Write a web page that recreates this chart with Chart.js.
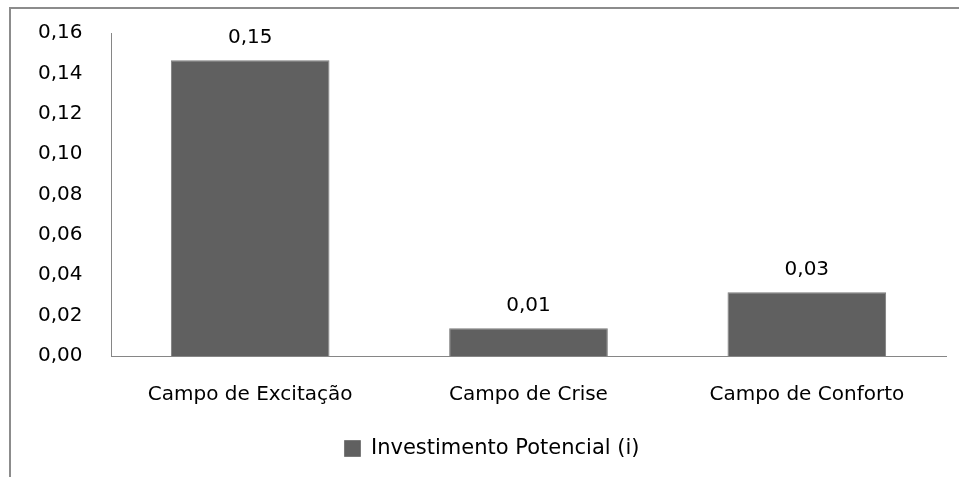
<!DOCTYPE html>
<html>
<head>
    <meta charset="utf-8">
    <title>Investimento Potencial</title>
    <style>
        body { margin: 0; background: #fff; }
        #frame {
            position: absolute; left: 9px; top: 7px; width: 960px; height: 480px;
            border-top: 2px solid #8c8c8c; border-left: 2px solid #8c8c8c;
        }
        #chart { position: absolute; left: 0; top: 0; }
    </style>
</head>
<body>
    <div id="frame"></div>
    <canvas id="chart" width="959" height="477"></canvas>
</body>
<script src="https://cdn.jsdelivr.net/npm/chart.js@4"></script>
<script>
    const categories = ["Campo de Excitação", "Campo de Crise", "Campo de Conforto"];
    const values = [0.1465, 0.0138, 0.0316];
    const seriesName = "Investimento Potencial (i)";
    const yTicks = [0, 0.02, 0.04, 0.06, 0.08, 0.10, 0.12, 0.14, 0.16];

    const barColor = "#606060";
    const axisColor = "#868686";
    const fontFamily = "'DejaVu Sans'";

    function comma(v) {
        return v.toFixed(2).replace(".", ",");
    }

    // value labels above each bar
    const valueLabels = {
        id: "valueLabels",
        afterDatasetsDraw(chart) {
            const c = chart.ctx;
            c.save();
            c.font = "20px " + fontFamily;
            c.fillStyle = "#000";
            c.textAlign = "center";
            c.textBaseline = "middle";
            chart.getDatasetMeta(0).data.forEach(function (bar, i) {
                c.fillText(comma(values[i]), bar.x, bar.y - 22);
            });
            c.restore();
        }
    };

    Chart.defaults.font.family = fontFamily;
    Chart.defaults.font.size = 20;
    Chart.defaults.color = "#000";

    const ctx = document.getElementById("chart").getContext("2d");
    const myChart = new Chart(ctx, {
        type: "bar",
        data: {
            labels: categories,
            datasets: [{
                label: seriesName,
                data: values,
                backgroundColor: barColor,
                borderColor: "#7a7a7a",
                borderWidth: 1,
                barPercentage: 0.57,
                categoryPercentage: 1
            }]
        },
        options: {
            responsive: false,
            animation: false,
            layout: { padding: { top: 33, right: 13, bottom: 8, left: 38 } },
            plugins: {
                tooltip: { enabled: false },
                legend: {
                    position: "bottom",
                    labels: { boxWidth: 16, boxHeight: 16, padding: 8, font: { size: 21 } }
                }
            },
            scales: {
                x: {
                    grid: { display: false },
                    border: { display: true, color: axisColor, width: 1 },
                    ticks: { padding: 19 },
                    afterFit(scale) { scale.height = 74; }
                },
                y: {
                    min: 0,
                    max: 0.16,
                    afterBuildTicks(scale) {
                        scale.ticks = yTicks.map(function (v) { return { value: v }; });
                    },
                    grid: { display: false, drawTicks: false },
                    border: { display: true, color: axisColor, width: 1 },
                    ticks: {
                        padding: 0,
                        crossAlign: "far",
                        callback: function (v) { return comma(v); }
                    },
                    afterFit(scale) { scale.width = 73; }
                }
            }
        },
        plugins: [valueLabels]
    });
</script>
</html>
